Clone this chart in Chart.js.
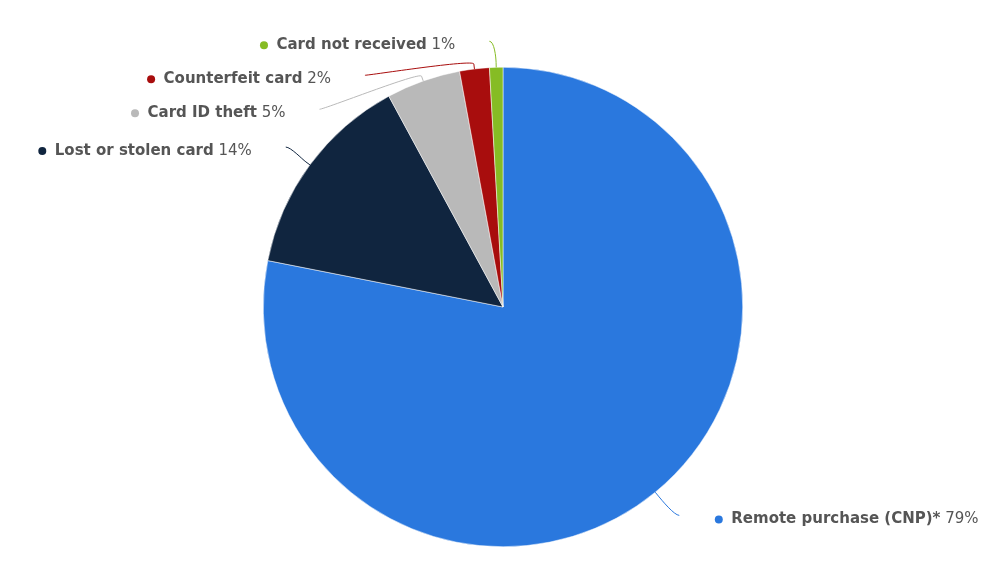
<!DOCTYPE html>
<html>
<head>
<meta charset="utf-8">
<script src="https://cdn.jsdelivr.net/npm/chart.js@4/dist/chart.umd.min.js"></script>
<style>
  html, body { margin: 0; padding: 0; background: #fff; }
  #wrap { width: 1000px; height: 563px; }
</style>
</head>
<body>
<div id="wrap"><canvas id="fraudPie" width="1000" height="563"></canvas></div>
<script>
// categories, read clockwise from 12 o'clock
const categories = ['Remote purchase (CNP)*', 'Lost or stolen card', 'Card ID theft', 'Counterfeit card', 'Card not received'];
// slice sizes (percent)
const shares = [78.1, 14.0, 5.0, 2.0, 0.9];
// the rounded numbers printed next to each label
const shareLabels = ['79%', '14%', '5%', '2%', '1%'];
const sliceColors = ['#2a78de', '#10253f', '#b9b9b9', '#a80d0d', '#86bc24'];

const textColor = '#555555';
const labelFont = '"DejaVu Sans", Verdana, sans-serif';
const fontSize = 15;

// labels + curved connectors, placed around the pie like the original
const sliceLabels = {
    id: 'sliceLabels',
    afterDatasetsDraw(chart) {
        const ctx = chart.ctx;
        const arcs = chart.getDatasetMeta(0).data;
        const gap = 34;

        const items = arcs.map((arc, i) => {
            const p = arc.getProps(['x', 'y', 'startAngle', 'endAngle', 'outerRadius'], true);
            const mid = (p.startAngle + p.endAngle) / 2;
            const R = p.outerRadius + 30;
            return {
                i, cx: p.x, cy: p.y, r: p.outerRadius, mid, R,
                lx: p.x + Math.cos(mid) * R,
                ly: p.y + Math.sin(mid) * R,
                left: Math.cos(mid) < 0
            };
        });

        // push labels apart (top to bottom) on each side
        [true, false].forEach(side => {
            const list = items.filter(d => d.left === side).sort((a, b) => a.ly - b.ly);
            if (list.length) {
                // keep the top label a little below the canvas edge
                const top = list[0].cy - list[0].R + 4;
                if (list[0].ly < top) {
                    list[0].ly = top;
                    list[0].lx += side ? -6 : 6;
                }
            }
            for (let k = 1; k < list.length; k++) {
                const prev = list[k - 1], d = list[k];
                if (d.ly < prev.ly + gap) {
                    d.ly = prev.ly + gap;
                    const dx = Math.sqrt(Math.max(d.R * d.R - (d.ly - d.cy) ** 2, 0));
                    d.lx = d.cx + (side ? -dx : dx);
                }
            }
            if (!side) list.forEach(d => { d.lx += 5; });
        });

        ctx.save();
        items.forEach(d => {
            const col = sliceColors[d.i];
            const cos = Math.cos(d.mid), sin = Math.sin(d.mid);
            const touch = { x: d.cx + cos * d.r, y: d.cy + sin * d.r };
            const brk = { x: d.cx + cos * (d.r + 5), y: d.cy + sin * (d.r + 5) };

            // connector
            ctx.beginPath();
            ctx.moveTo(d.lx, d.ly);
            ctx.bezierCurveTo(d.lx + (d.left ? 5 : -5), d.ly,
                2 * brk.x - touch.x, 2 * brk.y - touch.y, brk.x, brk.y);
            ctx.lineTo(touch.x, touch.y);
            ctx.strokeStyle = col;
            ctx.lineWidth = 1;
            ctx.stroke();

            // label text: bold name + normal percentage
            const name = categories[d.i];
            const pct = ' ' + shareLabels[d.i];
            ctx.font = 'bold ' + fontSize + 'px ' + labelFont;
            const wName = ctx.measureText(name).width;
            ctx.font = fontSize + 'px ' + labelFont;
            const wPct = ctx.measureText(pct).width;
            const ty = d.ly + 4;
            const x0 = d.left ? d.lx - 34 - wName - wPct : d.lx + 52;

            ctx.textBaseline = 'middle';
            ctx.textAlign = 'left';
            ctx.fillStyle = textColor;
            ctx.font = 'bold ' + fontSize + 'px ' + labelFont;
            ctx.fillText(name, x0, ty);
            ctx.font = fontSize + 'px ' + labelFont;
            ctx.fillText(pct, x0 + wName, ty);

            // marker dot
            ctx.beginPath();
            ctx.arc(x0 - 12.5, ty, 4, 0, Math.PI * 2);
            ctx.fillStyle = col;
            ctx.fill();
        });
        ctx.restore();
    }
};

const fraudPie = new Chart(document.getElementById('fraudPie').getContext('2d'), {
    type: 'pie',
    data: {
        labels: categories,
        datasets: [{
            data: shares,
            backgroundColor: sliceColors,
            borderColor: '#ffffff',
            borderWidth: 0.5,
            hoverOffset: 0,
            offset: 0
        }]
    },
    options: {
        responsive: false,
        animation: false,
        layout: { padding: { top: 67, bottom: 16, left: 263, right: 257 } },
        plugins: {
            legend: { display: false },
            tooltip: { enabled: false }
        }
    },
    plugins: [sliceLabels]
});
</script>
</body>
</html>
